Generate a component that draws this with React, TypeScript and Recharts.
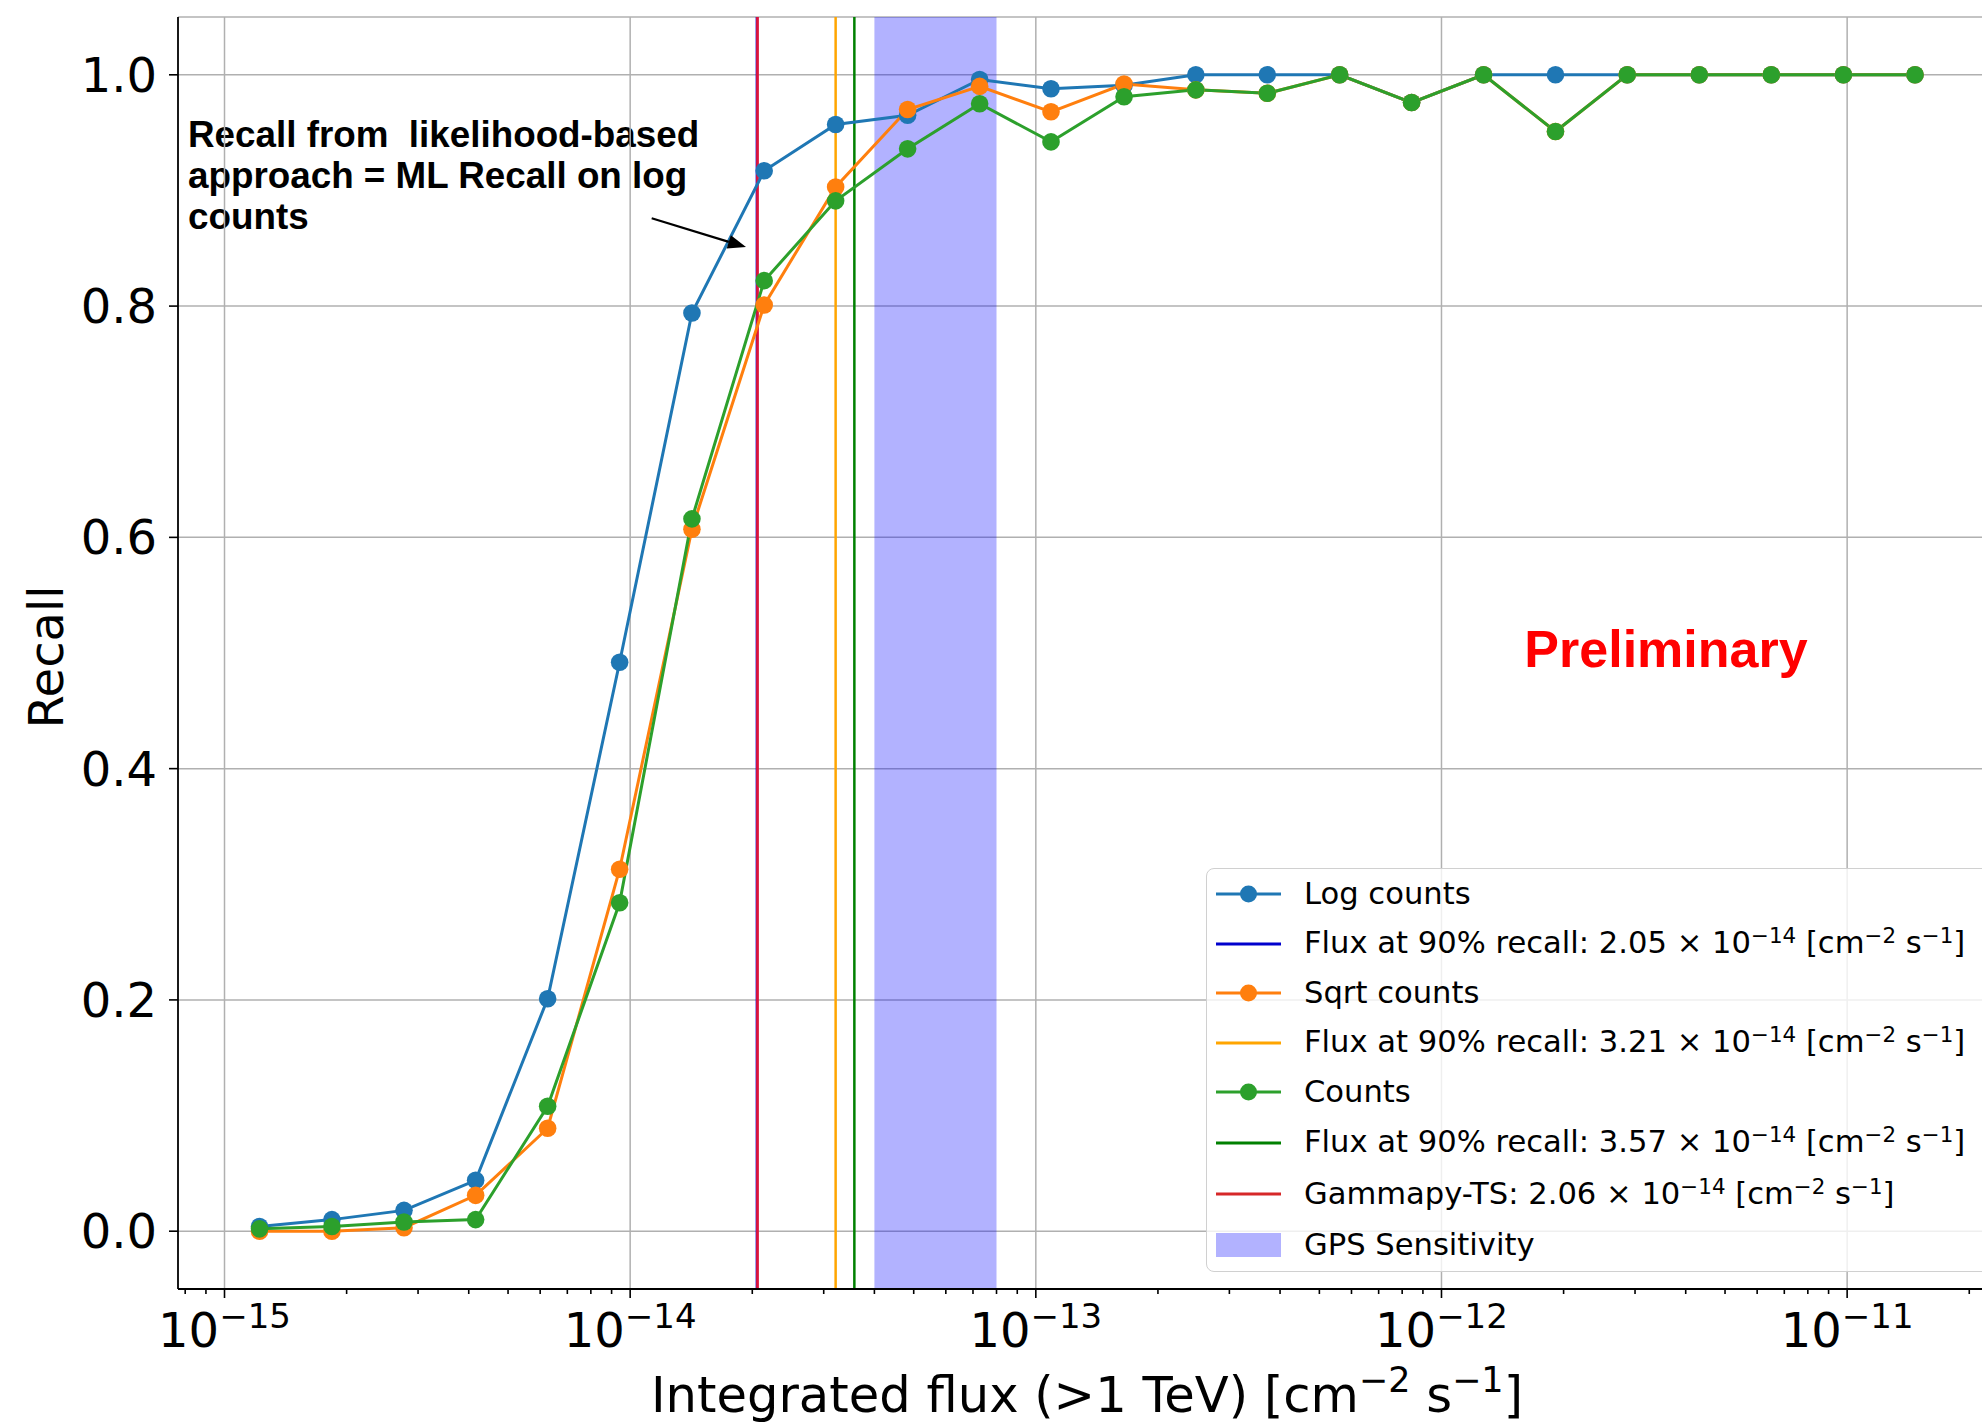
import React from 'react';
import {
  ComposedChart,
  Line,
  XAxis,
  YAxis,
  CartesianGrid,
  ReferenceLine,
  ReferenceArea,
  Legend,
} from 'recharts';

// integrated flux of each simulated source bin [cm^-2 s^-1]
const fluxBins = [
  1.22e-15, 1.84e-15, 2.77e-15, 4.16e-15, 6.26e-15, 9.42e-15, 1.42e-14, 2.14e-14,
  3.21e-14, 4.83e-14, 7.27e-14, 1.09e-13, 1.65e-13, 2.48e-13, 3.72e-13, 5.61e-13,
  8.44e-13, 1.27e-12, 1.91e-12, 2.87e-12, 4.32e-12, 6.5e-12, 9.79e-12, 1.47e-11,
];
const logCounts = [
  0.004, 0.01, 0.018, 0.044, 0.201, 0.492, 0.794, 0.917, 0.957, 0.965, 0.996, 0.988,
  0.991, 1.0, 1.0, 1.0, 0.976, 1.0, 1.0, 1.0, 1.0, 1.0, 1.0, 1.0,
];
const sqrtCounts = [
  0.0, 0.0, 0.003, 0.031, 0.089, 0.313, 0.607, 0.801, 0.903, 0.97, 0.99, 0.968,
  0.992, 0.987, 0.984, 1.0, 0.976, 1.0, 0.951, 1.0, 1.0, 1.0, 1.0, 1.0,
];
const counts = [
  0.002, 0.004, 0.008, 0.01, 0.108, 0.284, 0.616, 0.822, 0.891, 0.936, 0.975, 0.942,
  0.981, 0.987, 0.984, 1.0, 0.976, 1.0, 0.951, 1.0, 1.0, 1.0, 1.0, 1.0,
];

const xDecades = [1e-15, 1e-14, 1e-13, 1e-12, 1e-11];
const minorSubs = [2, 3, 4, 5, 6, 7, 8, 9];
const yTicks = [0, 0.2, 0.4, 0.6, 0.8, 1.0];
const xRange = [7.68e-16, 2.15e-11];
const yRange = [-0.05, 1.05];

const thresholds = [
  { value: 2.05e-14, color: '#0000cd', width: 2 },
  { value: 3.21e-14, color: '#ffa500', width: 2.5 },
  { value: 3.57e-14, color: '#008000', width: 2.5 },
  { value: 2.06e-14, color: '#dc143c', width: 2.8 },
];
const gpsBand = [4.0e-14, 8.0e-14];

const arrowTail = { x: 1.13e-14, y: 0.876 };
const arrowTip = { x: 1.93e-14, y: 0.851 };
const noteLines = ['Recall from  likelihood-based', 'approach = ML Recall on log', 'counts'];

const series = [
  { key: 'logCounts', name: 'Log counts', color: '#1f77b4' },
  { key: 'sqrtCounts', name: 'Sqrt counts', color: '#ff7f0e' },
  { key: 'counts', name: 'Counts', color: '#2ca02c' },
];

const data = fluxBins.map((flux, i) => ({
  flux,
  logCounts: logCounts[i],
  sqrtCounts: sqrtCounts[i],
  counts: counts[i],
}));

const minorTicks: number[] = [];
[-16, -15, -14, -13, -12, -11].forEach((e) => {
  minorSubs.forEach((s) => {
    const v = s * Math.pow(10, e);
    if (v >= xRange[0] && v <= xRange[1]) minorTicks.push(v);
  });
});
const xTicks = [...xDecades, ...minorTicks].sort((a, b) => a - b);

const FONT = 'DejaVu Sans, sans-serif';
const ARIAL = 'Liberation Sans, Arial, sans-serif';

const FluxTick = (props: any) => {
  const { x, y, payload } = props;
  const lg = Math.log10(payload.value);
  const exp = Math.round(lg);
  const major = Math.abs(lg - exp) < 1e-6;
  return (
    <g>
      <line x1={x} x2={x} y1={y} y2={y + (major ? 9 : 5)} stroke="#000" strokeWidth={1.6} />
      {major && (
        <text x={x} y={y + 58} textAnchor="middle" fontFamily={FONT} fontSize={48} fill="#000">
          10
          <tspan dy={-19} fontSize={34}>
            {'\u2212' + Math.abs(exp)}
          </tspan>
        </text>
      )}
    </g>
  );
};

const ArrowShape = (p: any) => {
  const { x1, y1, x2, y2 } = p;
  const ang = Math.atan2(y2 - y1, x2 - x1);
  const len = 18;
  const half = 7;
  const bx = x2 - len * Math.cos(ang);
  const by = y2 - len * Math.sin(ang);
  const px = -Math.sin(ang) * half;
  const py = Math.cos(ang) * half;
  return (
    <g>
      <line x1={x1} y1={y1} x2={bx} y2={by} stroke="#000" strokeWidth={2.2} />
      <polygon points={`${x2},${y2} ${bx + px},${by + py} ${bx - px},${by - py}`} fill="#000" />
    </g>
  );
};

const sup = (t: string) => (
  <span style={{ fontSize: '0.7em', verticalAlign: '0.45em', lineHeight: 0 }}>{t}</span>
);
const fluxText = (prefix: string, mant: string) => (
  <>
    {prefix} {mant} × 10{sup('\u221214')} [cm{sup('\u22122')} s{sup('\u22121')}]
  </>
);

const legendRows = [
  { kind: 'marker', color: series[0].color, label: <>{series[0].name}</> },
  { kind: 'line', color: thresholds[0].color, label: fluxText('Flux at 90% recall:', '2.05') },
  { kind: 'marker', color: series[1].color, label: <>{series[1].name}</> },
  { kind: 'line', color: thresholds[1].color, label: fluxText('Flux at 90% recall:', '3.21') },
  { kind: 'marker', color: series[2].color, label: <>{series[2].name}</> },
  { kind: 'line', color: thresholds[2].color, label: fluxText('Flux at 90% recall:', '3.57') },
  { kind: 'line', color: '#d62728', label: fluxText('Gammapy-TS:', '2.06') },
  { kind: 'patch', color: 'rgba(0,0,255,0.3)', label: <>GPS Sensitivity</> },
];

const rowHeights = [50, 49, 50, 49, 50, 51, 52, 50];

const LegendBox = () => (
  <div
    style={{
      width: 800,
      height: 404,
      boxSizing: 'border-box',
      border: '1.5px solid #d0d0d0',
      borderRadius: 8,
      background: 'rgba(255,255,255,0.8)',
      fontFamily: FONT,
      fontSize: 30.6,
      color: '#000',
    }}
  >
    {legendRows.map((r, i) => (
      <div
        key={i}
        style={{ height: rowHeights[i], display: 'flex', alignItems: 'center', whiteSpace: 'nowrap' }}
      >
        <svg width={65} height={30} style={{ marginLeft: 9, flex: 'none' }}>
          {r.kind === 'patch' ? (
            <rect x={0} y={3} width={65} height={24} fill={r.color} />
          ) : (
            <>
              <line x1={0} x2={65} y1={15} y2={15} stroke={r.color} strokeWidth={3} />
              {r.kind === 'marker' && <circle cx={32.5} cy={15} r={8.5} fill={r.color} />}
            </>
          )}
        </svg>
        <span style={{ marginLeft: 23, lineHeight: 1 }}>{r.label}</span>
      </div>
    ))}
  </div>
);

export default function App() {
  return (
    <div
      style={{
        position: 'absolute',
        left: 0,
        top: 0,
        width: 1982,
        height: 1427,
        overflow: 'hidden',
        background: '#fff',
      }}
    >
      <ComposedChart width={1982} height={1427} data={data} margin={{ top: 17, right: 0, bottom: 0, left: 0 }}>
        <CartesianGrid stroke="#b0b0b0" strokeWidth={1.5} vertical={false} />
        {xDecades.map((d) => (
          <ReferenceLine key={d} x={d} stroke="#b0b0b0" strokeWidth={1.5} />
        ))}
        <XAxis
          dataKey="flux"
          type="number"
          scale="log"
          domain={xRange}
          allowDataOverflow
          ticks={xTicks}
          interval={0}
          tickLine={false}
          tickSize={0}
          tickMargin={0}
          tick={<FluxTick />}
          height={138}
          axisLine={{ stroke: '#000', strokeWidth: 1.8 }}
        />
        <XAxis
          xAxisId="top"
          orientation="top"
          dataKey="flux"
          type="number"
          scale="log"
          domain={xRange}
          allowDataOverflow
          height={0}
          tick={false}
          tickLine={false}
          axisLine={{ stroke: '#000', strokeWidth: 1.8 }}
        />
        <YAxis
          type="number"
          domain={yRange}
          allowDataOverflow
          ticks={yTicks}
          width={178}
          tickSize={9}
          tickMargin={12}
          tickFormatter={(v: number) => v.toFixed(1)}
          tick={{ fontSize: 48, fill: '#000', fontFamily: FONT }}
          tickLine={{ stroke: '#000', strokeWidth: 1.6 }}
          axisLine={{ stroke: '#000', strokeWidth: 1.8 }}
        />
        <ReferenceArea x1={gpsBand[0]} x2={gpsBand[1]} fill="#0000ff" fillOpacity={0.3} stroke="none" />
        {thresholds.map((t) => (
          <ReferenceLine key={t.value} x={t.value} stroke={t.color} strokeWidth={t.width} />
        ))}
        {series.map((s) => (
          <Line
            key={s.key}
            dataKey={s.key}
            type="linear"
            stroke={s.color}
            strokeWidth={3}
            dot={{ r: 8.8, fill: s.color, stroke: s.color, strokeWidth: 0 }}
            activeDot={false}
            isAnimationActive={false}
          />
        ))}
        <ReferenceLine segment={[arrowTail, arrowTip]} shape={ArrowShape} />
        <Legend
          layout="vertical"
          align="center"
          verticalAlign="middle"
          content={() => <LegendBox />}
          wrapperStyle={{ left: 1206, top: 868, width: 800, height: 404 }}
        />
        <text
          x={188}
          y={147}
          fontFamily={ARIAL}
          fontWeight="bold"
          fontSize={36.8}
          fill="#000"
          style={{ whiteSpace: 'pre' }}
        >
          {noteLines.map((l, i) => (
            <tspan key={i} x={188} y={147 + i * 41}>
              {l}
            </tspan>
          ))}
        </text>
        <text x={1666} y={667} textAnchor="middle" fontFamily={ARIAL} fontWeight="bold" fontSize={52} fill="#ff0000">
          Preliminary
        </text>
        <text
          x={46}
          y={657}
          textAnchor="middle"
          dominantBaseline="central"
          transform="rotate(-90, 46, 657)"
          fontFamily={FONT}
          fontSize={48}
          fill="#000"
        >
          Recall
        </text>
        <text x={1087} y={1412} textAnchor="middle" fontFamily={FONT} fontSize={49.6} fill="#000">
          Integrated flux (&gt;1 TeV) [cm
          <tspan dy={-20} fontSize={35}>
            {'\u22122'}
          </tspan>
          <tspan dy={20}> s</tspan>
          <tspan dy={-20} fontSize={35}>
            {'\u22121'}
          </tspan>
          <tspan dy={20}>]</tspan>
        </text>
      </ComposedChart>
    </div>
  );
}
